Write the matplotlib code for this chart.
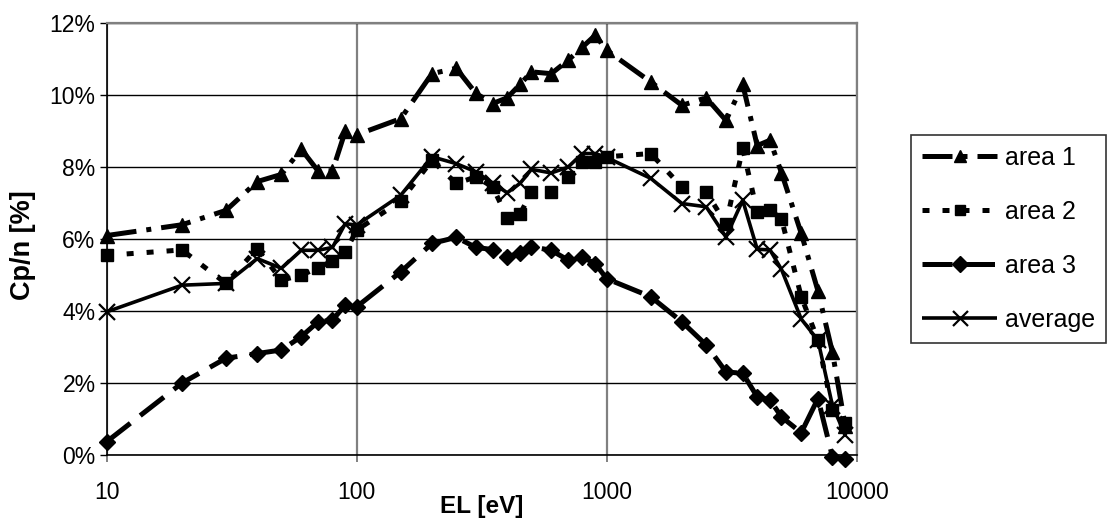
import matplotlib
matplotlib.use('Agg')
import matplotlib.pyplot as plt
from matplotlib.ticker import FixedLocator, FixedFormatter, NullLocator

# ---- data ----
energy = [10, 20, 30, 40, 50, 60, 70, 80, 90, 100,
          150, 200, 250, 300, 350, 400, 450, 500, 600, 700, 800, 900, 1000,
          1500, 2000, 2500, 3000, 3500, 4000, 4500, 5000, 6000, 7000, 8000, 9000]

area1 = [6.1, 6.4, 6.8, 7.6, 7.8, 8.5, 7.9, 7.9, 9.0, 8.9,
         9.35, 10.6, 10.75, 10.05, 9.77, 9.93, 10.3, 10.65, 10.6, 10.97, 11.34, 11.67, 11.25,
         10.37, 9.72, 9.93, 9.3, 10.3, 8.6, 8.75, 7.85, 6.16, 4.56, 2.85, 0.8]

area2 = [5.55, 5.7, 4.77, 5.74, 4.86, 5.0, 5.2, 5.4, 5.65, 6.25,
         7.06, 8.19, 7.55, 7.73, 7.45, 6.6, 6.7, 7.3, 7.3, 7.73, 8.15, 8.15, 8.29,
         8.38, 7.45, 7.31, 6.43, 8.52, 6.76, 6.8, 6.57, 4.4, 3.19, 1.25, 0.88]

area3 = [0.37, 2.0, 2.69, 2.82, 2.92, 3.29, 3.7, 3.75, 4.17, 4.12,
         5.09, 5.88, 6.05, 5.77, 5.71, 5.5, 5.62, 5.79, 5.69, 5.42, 5.5, 5.32, 4.9,
         4.4, 3.7, 3.06, 2.31, 2.27, 1.62, 1.53, 1.06, 0.62, 1.57, -0.05, -0.12]

average = [3.98, 4.72, 4.77, 5.46, 5.19, 5.69, 5.69, 5.77, 6.43, 6.39,
           7.22, 8.29, 8.1, 7.87, 7.55, 7.29, 7.55, 7.94, 7.84, 8.0, 8.38, 8.38, 8.27,
           7.69, 6.99, 6.9, 6.06, 7.08, 5.72, 5.7, 5.16, 3.78, 3.19, 1.37, 0.55]

series_labels = ['area 1', 'area 2', 'area 3', 'average']
x_ticks = [10, 100, 1000, 10000]
x_tick_labels = ['10', '100', '1000', '10000']
y_ticks = [0, 2, 4, 6, 8, 10, 12]
y_tick_labels = ['0%', '2%', '4%', '6%', '8%', '10%', '12%']

# ---- figure ----
W, H = 1107, 523
fig = plt.figure(figsize=(W / 100, H / 100), dpi=100)
x0, x1, ytop, ybot = 106.7, 856.7, 23.3, 455.0
ax = fig.add_axes([x0 / W, 1 - ybot / H, (x1 - x0) / W, (ybot - ytop) / H])

regular = ['Liberation Sans', 'DejaVu Sans']

lw_dash = 3.6
ax.plot(energy, area1, color='black', lw=lw_dash, dashes=(6, 2, 1, 2),
        marker='^', ms=10, mfc='black', mec='black', clip_on=False,
        label=series_labels[0], zorder=3)
ax.plot(energy, area2, color='black', lw=lw_dash, dashes=(1.4, 2.6),
        marker='s', ms=8, mfc='black', mec='black', clip_on=False,
        label=series_labels[1], zorder=3)
ax.plot(energy, area3, color='black', lw=lw_dash, dashes=(6, 2.5),
        marker='D', ms=8.5, mfc='black', mec='black', clip_on=False,
        label=series_labels[2], zorder=3)
ax.plot(energy, average, color='black', lw=2.6, solid_capstyle='butt',
        marker='x', ms=12, mew=1.6, mfc='black', mec='black', clip_on=False,
        label=series_labels[3], zorder=4)

ax.set_xscale('log')
ax.set_xlim(10, 10000)
ax.set_ylim(0, 12)
ax.xaxis.set_major_locator(FixedLocator(x_ticks))
ax.xaxis.set_major_formatter(FixedFormatter(x_tick_labels))
ax.xaxis.set_minor_locator(NullLocator())
ax.yaxis.set_major_locator(FixedLocator(y_ticks))
ax.yaxis.set_major_formatter(FixedFormatter(y_tick_labels))
ax.yaxis.set_minor_locator(NullLocator())

ax.yaxis.grid(True, color='black', lw=1.0, zorder=0)
ax.xaxis.grid(True, color='#808080', lw=1.6, zorder=0)
ax.set_axisbelow(True)

for s in ['left', 'bottom']:
    ax.spines[s].set_color('black')
    ax.spines[s].set_linewidth(1.2)
for s in ['top', 'right']:
    ax.spines[s].set_color('#808080')
    ax.spines[s].set_linewidth(1.6)

ax.tick_params(axis='y', direction='out', length=5, width=1, color='black', pad=3)
ax.tick_params(axis='x', direction='out', length=5, width=1.4, color='#808080', pad=14)
for lab in ax.get_xticklabels() + ax.get_yticklabels():
    lab.set_family(regular)
    lab.set_fontsize(16.5)

ax.set_xlabel('EL [eV]', family=regular, fontweight='bold', fontsize=17.5, va='center')
ax.xaxis.set_label_coords(0.5, (ybot - 507) / (ybot - ytop))
ax.set_ylabel('Cp/n [%]', family=regular, fontweight='bold', fontsize=19.5, va='center')
ax.yaxis.set_label_coords((23 - x0) / (x1 - x0), (ybot - 245) / (ybot - ytop))

leg = ax.legend(loc='upper left', bbox_to_anchor=(911 / W, 1 - 135 / H),
                bbox_transform=fig.transFigure, borderaxespad=0,
                prop={'family': regular, 'size': 18}, frameon=True,
                fancybox=False, edgecolor='black', handlelength=3.0,
                handletextpad=0.3, labelspacing=1.2, borderpad=0.45,
                markerscale=0.9)
leg.get_frame().set_linewidth(1.2)

fig.savefig('out.png', dpi=100)
